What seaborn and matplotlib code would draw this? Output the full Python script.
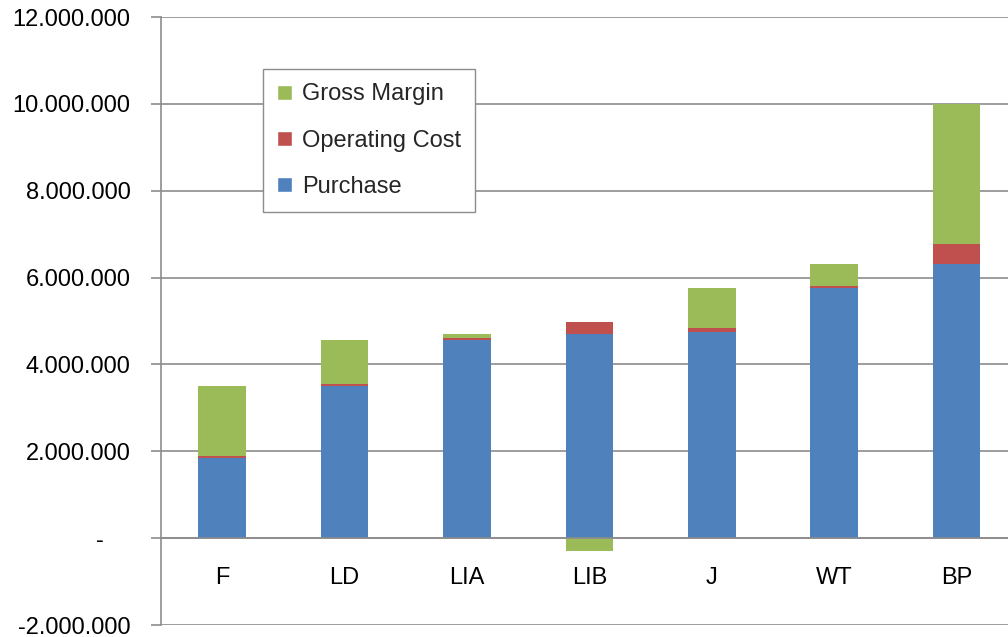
import numpy as np
import pandas as pd
import matplotlib
matplotlib.use("Agg")
import matplotlib.pyplot as plt
import matplotlib.ticker as mticker
from matplotlib.patches import Patch
import seaborn as sns

categories = ["F", "LD", "LIA", "LIB", "J", "WT", "BP"]
purchase = [1850000, 3510000, 4570000, 4710000, 4750000, 5770000, 6320000]
operatingCost = [40000, 50000, 50000, 270000, 90000, 40000, 460000]
grossMargin = [1620000, 1010000, 90000, -290000, 930000, 510000, 3210000]

colors = {"Purchase": "#4F81BD", "Operating Cost": "#C0504D", "Gross Margin": "#9BBB59"}

df = pd.DataFrame({
  "category": categories,
  "purchase": purchase,
  "operatingCost": operatingCost,
  "grossMargin": grossMargin,
})
df["opBottom"] = df["purchase"]
df["gmBottom"] = np.where(df["grossMargin"] < 0, 0, df["purchase"] + df["operatingCost"])

sns.set_style("white")
plt.rcParams["font.family"] = ["Liberation Sans", "DejaVu Sans"]

fig = plt.figure(figsize=(10.08, 6.37), dpi=100)
ax = fig.add_axes([0.1597, 0.0188, 0.850, 0.9545])
ax.set_axisbelow(True)

barKw = dict(width=0.39, saturation=1, ax=ax, zorder=2, linewidth=0, edgecolor="none")
sns.barplot(data=df, x="category", y="purchase", color=colors["Purchase"], **barKw)
sns.barplot(data=df, x="category", y="operatingCost", bottom=df["opBottom"],
            color=colors["Operating Cost"], **barKw)
sns.barplot(data=df, x="category", y="grossMargin", bottom=df["gmBottom"],
            color=colors["Gross Margin"], **barKw)

ax.set_xlim(-0.5, len(categories) - 0.5)
ax.set_ylim(-2000000, 12000000)
ax.set_yticks(np.arange(-2000000, 12000001, 2000000))

# accounting style: zero shown as a dash, padded like Excel does
def fmt(v, pos):
  if v == 0:
    return "-    "
  return f"{int(v):,}".replace(",", ".")

ax.yaxis.set_major_formatter(mticker.FuncFormatter(fmt))
ax.grid(axis="y", color="#8C8C8C", linewidth=1.2)
ax.grid(axis="x", visible=False)
ax.set_xlabel("")
ax.set_ylabel("")

for s in ["top", "right"]:
  ax.spines[s].set_visible(False)
ax.spines["left"].set_color("#8C8C8C")
ax.spines["left"].set_linewidth(1.2)
ax.spines["bottom"].set_position(("data", 0))
ax.spines["bottom"].set_color("#8C8C8C")
ax.spines["bottom"].set_linewidth(1.2)
ax.spines["bottom"].set_zorder(3)

ax.set_xticks(np.arange(len(categories) - 1) + 0.5, minor=True)
ax.tick_params(axis="x", which="major", length=0, pad=21, labelsize=17, labelcolor="black")
ax.tick_params(axis="x", which="minor", length=7, width=1.2, color="#8C8C8C", direction="out")
ax.tick_params(axis="y", which="major", length=7, width=1.2, color="#8C8C8C",
               direction="out", left=True, pad=15, labelsize=17, labelcolor="black")

handles = [
  Patch(facecolor=colors["Gross Margin"], label="Gross Margin"),
  Patch(facecolor=colors["Operating Cost"], label="Operating Cost"),
  Patch(facecolor=colors["Purchase"], label="Purchase"),
]
leg = ax.legend(handles=handles, loc="upper left", bbox_to_anchor=(0.119, 0.914),
                borderaxespad=0, fontsize=17, frameon=True, fancybox=False,
                edgecolor="#8C8C8C", framealpha=1, handlelength=0.62,
                handleheight=0.62, handletextpad=0.42, labelspacing=1.03,
                borderpad=0.6)
leg.get_frame().set_linewidth(1.0)

fig.savefig("out.png", dpi=100)
